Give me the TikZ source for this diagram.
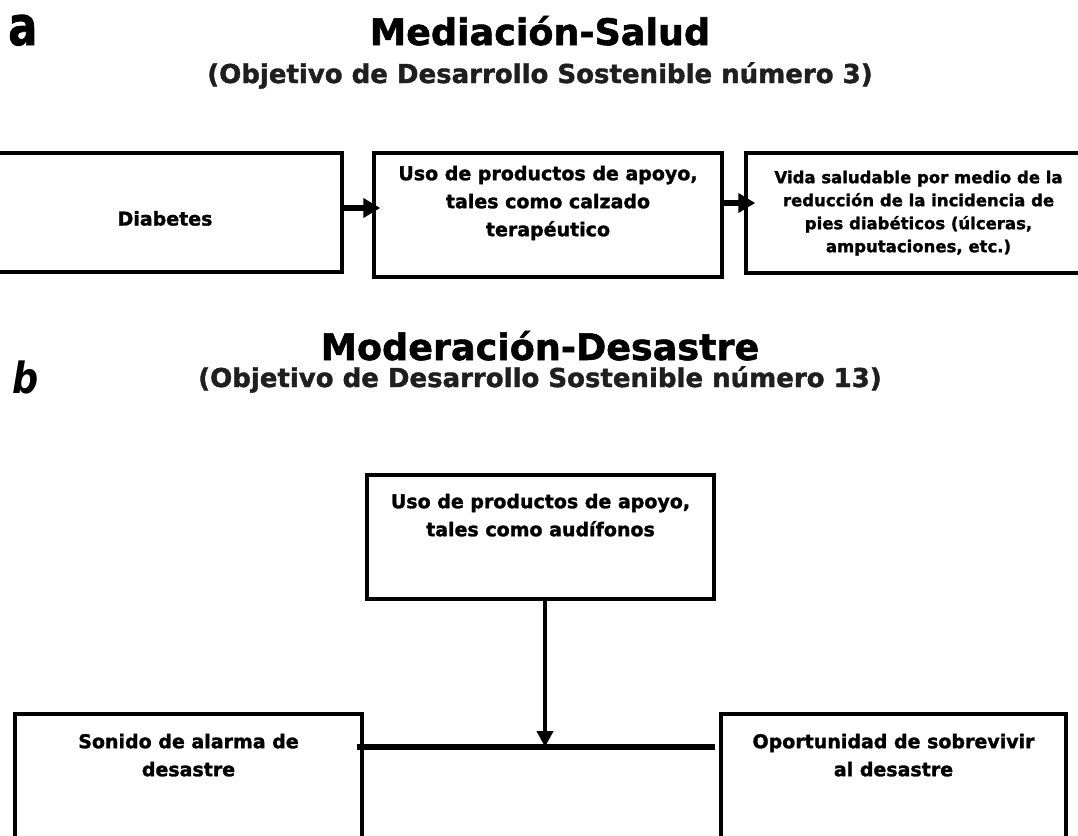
\documentclass[tikz,border=0pt]{standalone}
\usepackage{fontspec}
\setmainfont{DejaVu Sans}[BoldFeatures={FakeBold=1.5}]
\usetikzlibrary{arrows.meta}
\tikzset{
  box/.style={draw, line width=3.5pt, inner sep=0pt, fill=white},
  txt/.style={font=\bfseries\fontsize{19}{28}\selectfont, align=center, inner sep=0pt, anchor=north},
  smalltxt/.style={txt, font=\bfseries\fontsize{16.5}{23}\selectfont},
  title/.style={font=\bfseries\fontsize{36.5}{40}\selectfont, anchor=base, inner sep=0pt},
  subtitle/.style={font=\bfseries\fontsize{26}{30}\selectfont, anchor=base, inner sep=0pt, text=black!88},
  panel/.style={anchor=base west, inner sep=0pt},
  arr/.style={line width=6pt, -{Triangle[length=17pt,width=19pt]}},
  varr/.style={line width=4pt, -{Triangle[length=16pt,width=16pt]}},
}
\begin{document}
\begin{tikzpicture}[x=1pt,y=-1pt]
\useasboundingbox (0,0) rectangle (1078,835);
\clip (0,0) rectangle (1078,835);

% panel labels
\node[panel] (la) at (8,45) {\scalebox{0.8}[1]{\fontsize{54}{60}\selectfont\bfseries a}};
\node[panel] (lb) at (12,393) {\scalebox{0.85}[1]{\fontsize{43}{50}\selectfont\bfseries\itshape b}};

% titles
\node[title] (ta) at (540,45) {Mediación-Salud};
\node[subtitle] (sa) at (540,83) {(Objetivo de Desarrollo Sostenible número 3)};
\node[title] (tb) at (540,360) {Moderación-Desastre};
\node[subtitle] (sb) at (540,387) {(Objetivo de Desarrollo Sostenible número 13)};

% panel a boxes
\node[box, minimum width=354pt, minimum height=119pt] (d1) at (165,212.5) {};
\node[box, minimum width=348pt, minimum height=124pt] (d2) at (548,215) {};
\node[box, minimum width=345pt, minimum height=120pt] (d3) at (918.5,213) {};

\node[txt, anchor=base] (t1) at (165,225.5) {Diabetes};
\node[txt] (t2) at (548,161) {\rule{0pt}{19pt}Uso de productos de apoyo,\\tales como calzado\\terapéutico};
\node[smalltxt] (t3) at (918.5,166.5) {\rule{0pt}{16.5pt}Vida saludable por medio de la\\reducción de la incidencia de\\pies diabéticos (úlceras,\\amputaciones, etc.)};

\draw[arr] (d1.east |- 0,208) -- ([xshift=8pt]d2.west |- 0,208);
\draw[arr] (d2.east |- 0,203) -- ([xshift=11pt]d3.west |- 0,203);

% panel b boxes
\node[box, minimum width=347pt, minimum height=124pt] (bt) at (540.5,537) {};
\node[box, minimum width=347pt, minimum height=136pt] (bl) at (188.5,782) {};
\node[box, minimum width=345pt, minimum height=136pt] (br) at (893.5,782) {};

\node[txt] (tbt) at (540.5,489) {\rule{0pt}{19pt}Uso de productos de apoyo,\\tales como audífonos};
\node[txt] (tbl) at (188.5,729) {\rule{0pt}{19pt}Sonido de alarma de\\desastre};
\node[txt] (tbr) at (893.5,729) {\rule{0pt}{19pt}Oportunidad de sobrevivir\\al desastre};

\coordinate (hl) at ([xshift=-7pt]bl.east |- 0,747);
\coordinate (hr) at ([xshift=-4pt]br.west |- 0,747);
\draw[line width=6pt] (hl) -- (hr);
\draw[varr] ([xshift=4.5pt]bt.south) -- ([xshift=4.5pt]bt.south |- hl);
\end{tikzpicture}
\end{document}
